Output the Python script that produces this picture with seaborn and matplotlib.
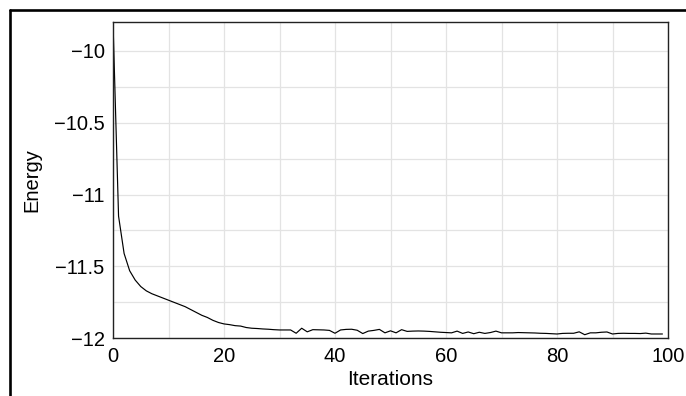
import numpy as np
import pandas as pd
import matplotlib
matplotlib.use("Agg")
import matplotlib.pyplot as plt
from matplotlib.ticker import MultipleLocator, FuncFormatter
from matplotlib.lines import Line2D
import seaborn as sns

iterations = list(range(0, 100))
energy = [
    -9.80, -11.15, -11.41, -11.53, -11.595, -11.64, -11.67, -11.69, -11.705, -11.72,
    -11.735, -11.75, -11.765, -11.78, -11.80, -11.82, -11.84, -11.855, -11.875, -11.89,
    -11.90, -11.905, -11.912, -11.915, -11.925, -11.93, -11.932, -11.935, -11.937, -11.94,
    -11.942, -11.942, -11.942, -11.965, -11.93, -11.955, -11.94, -11.941, -11.942, -11.945,
    -11.965, -11.942, -11.938, -11.937, -11.944, -11.967, -11.95, -11.945, -11.938, -11.962,
    -11.948, -11.962, -11.94, -11.952, -11.95, -11.949, -11.95, -11.952, -11.955, -11.958,
    -11.96, -11.962, -11.95, -11.966, -11.956, -11.968, -11.958, -11.966, -11.96, -11.95,
    -11.962, -11.962, -11.962, -11.96, -11.961, -11.962, -11.963, -11.965, -11.966, -11.968,
    -11.97, -11.966, -11.965, -11.965, -11.955, -11.975, -11.962, -11.962, -11.958, -11.956,
    -11.97, -11.966, -11.965, -11.966, -11.966, -11.967, -11.964, -11.97, -11.97, -11.97,
]
x_label = "Iterations"
y_label = "Energy"

df = pd.DataFrame({x_label: iterations, y_label: energy})

sns.set_theme(style="white")
plt.rcParams["font.family"] = ["Liberation Sans", "DejaVu Sans"]
plt.rcParams["axes.unicode_minus"] = True

fig = plt.figure(figsize=(6.86, 3.96), dpi=100)
W, H = 686, 396
ax = fig.add_axes([113 / W, 1 - 338.3 / H, 555 / W, (338.3 - 22) / H])

sns.lineplot(data=df, x=x_label, y=y_label, ax=ax, color="black", linewidth=0.85)

ax.set_xlim(0, 100)
ax.set_ylim(-12, -9.8)
ax.xaxis.set_major_locator(MultipleLocator(20))
ax.xaxis.set_minor_locator(MultipleLocator(10))
ax.yaxis.set_major_locator(MultipleLocator(0.5))
ax.yaxis.set_minor_locator(MultipleLocator(0.25))
fmt = FuncFormatter(lambda v, p: ("%g" % v).replace("-", "\u2212"))
ax.xaxis.set_major_formatter(fmt)
ax.yaxis.set_major_formatter(fmt)

ax.grid(True, which="both", color="#e3e3e3", linewidth=0.9)
ax.set_axisbelow(True)
ax.tick_params(axis="both", which="both", length=0, labelsize=14.5, colors="black")
ax.tick_params(axis="x", pad=6)
ax.tick_params(axis="y", pad=6)
ax.set_xlabel(x_label, fontsize=15, labelpad=3.5, color="black")
ax.set_ylabel(y_label, fontsize=14.5, labelpad=9, color="black")

for s in ax.spines.values():
    s.set_visible(True)
    s.set_color("#222222")
    s.set_linewidth(1.0)

# outer frame (cropped)
fx, fy = 9.5 / W, 1 - 9.5 / H
fig.add_artist(Line2D([fx, 1.0], [fy, fy], transform=fig.transFigure, color="black", linewidth=1.9))
fig.add_artist(Line2D([fx, fx], [fy, 0.0], transform=fig.transFigure, color="black", linewidth=1.9))

fig.savefig("out.png", dpi=100, facecolor="white")
